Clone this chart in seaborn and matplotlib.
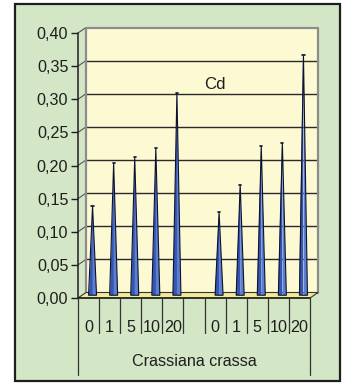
import numpy as np
import pandas as pd
import matplotlib
matplotlib.use("Agg")
import matplotlib.pyplot as plt
import seaborn as sns
from matplotlib.patches import Polygon, Rectangle

# ---- data ----
doses = ["0", "1", "5", "10", "20"]
group1 = [0.135, 0.200, 0.208, 0.222, 0.305]
group2 = [0.125, 0.167, 0.225, 0.230, 0.362]
yticks = [0.00, 0.05, 0.10, 0.15, 0.20, 0.25, 0.30, 0.35, 0.40]
species = "Crassiana crassa"
element = "Cd"

keys1 = [f"a{d}" for d in doses]
keys2 = [f"b{d}" for d in doses]
order = keys1 + ["gap"] + keys2
tick_text = doses + [""] + doses
df = pd.DataFrame({"key": keys1 + keys2, "value": group1 + group2})

sns.set_style("white")
plt.rcParams["font.family"] = ["Liberation Sans", "DejaVu Sans"]
FS = 11.6

W, H = 344, 383
fig = plt.figure(figsize=(W / 100, H / 100), dpi=100)
fig.patch.set_facecolor("white")

GREEN = "#d3e6c6"
WALL = "#fcf9d3"
FLOOR = "#f3ea95"
DARK = "#1e1e1e"

bg = fig.add_axes([0, 0, 1, 1], zorder=-10)
bg.set_xlim(0, W)
bg.set_ylim(H, 0)
bg.axis("off")
bg.add_patch(Rectangle((15, 4), 325, 377, facecolor=GREEN, edgecolor=DARK, linewidth=1.6))

ax = fig.add_axes([78 / W, 85 / H, 232 / W, 265 / H], zorder=1)
ax.patch.set_alpha(0)

sns.barplot(data=df, x="key", y="value", order=order, width=0.38, color="#3f60b8",
            errorbar=None, ax=ax)

ax.set_xlim(-0.5, len(order) - 0.5)
ax.set_ylim(0, 0.40)

px_x = 232 / len(order)
px_y = 265 / 0.40
dx = 8 / px_x
dy = 5.5 / px_y

bars = [p for p in list(ax.patches) if type(p) is Rectangle]
geo = [(p.get_x(), p.get_width(), p.get_height()) for p in bars]
for p in bars:
    p.remove()

# back wall
ax.add_patch(Rectangle((-0.5 + dx, dy), len(order), 0.40, facecolor=WALL, edgecolor="none",
                       zorder=0.5, clip_on=False))
for t in yticks[1:-1]:
    ax.plot([-0.5 + dx, len(order) - 0.5 + dx], [t + dy, t + dy], color="#2a2a2a", lw=1.0,
            zorder=0.8, clip_on=False)
    ax.plot([-0.5, -0.5 + dx], [t, t + dy], color="#555555", lw=0.8, zorder=0.8, clip_on=False)
ax.plot([-0.5, -0.5 + dx], [0.40, 0.40 + dy], color="#555555", lw=0.8, zorder=0.8, clip_on=False)
ax.plot([-0.5 + dx, -0.5 + dx, len(order) - 0.5 + dx, len(order) - 0.5 + dx],
        [dy, 0.40 + dy, 0.40 + dy, dy], color="#8c8c8c", lw=1.6, zorder=0.9, clip_on=False)

# floor
ax.add_patch(Polygon([(-0.5, 0), (len(order) - 0.5, 0), (len(order) - 0.5 + dx, dy), (-0.5 + dx, dy)],
                     closed=True, facecolor=FLOOR, edgecolor="#333333", lw=0.8, zorder=1,
                     clip_on=False))

for x, w, h in geo:
    if not np.isfinite(h) or h <= 0:
        continue
    c = x + w / 2 + dx / 2
    b = dy / 2
    half = w / 2
    top = h + dy / 2
    ax.add_patch(Polygon([(c - half, b), (c, b), (c, top)], closed=True, facecolor="#3556b2",
                         edgecolor="none", zorder=3, clip_on=False))
    ax.add_patch(Polygon([(c, b), (c + half, b), (c, top)], closed=True, facecolor="#5d7fd0",
                         edgecolor="none", zorder=3, clip_on=False))
    ax.add_patch(Polygon([(c - half, b), (c + half, b), (c, top)], closed=True, fill=False,
                         edgecolor="#0d1230", lw=0.8, zorder=4, clip_on=False))
    ax.plot([c - 0.05, c + 0.05], [top, top], color="#0d1230", lw=1.2, zorder=4, clip_on=False)

for s in ax.spines.values():
    s.set_visible(False)
ax.plot([-0.5, -0.5], [0, 0.40], color=DARK, lw=1.1, zorder=5, clip_on=False)
ax.plot([-0.5, len(order) - 0.5], [0, 0], color=DARK, lw=1.1, zorder=5, clip_on=False)

ax.set_yticks(yticks)
ax.set_yticklabels([f"{t:.2f}".replace(".", ",") for t in yticks])
ax.tick_params(axis="y", direction="out", length=5, width=1, color=DARK, labelsize=FS,
               labelcolor=DARK, pad=2, left=True)
ax.set_xticks([])
ax.set_xlabel("")
ax.set_ylabel("")

lab_y = -30 / px_y
sep_in = -35 / px_y
sep_out = -77 / px_y
for i, t in enumerate(tick_text):
    ax.text(i, lab_y, t, ha="center", va="center", fontsize=FS, color=DARK, clip_on=False)
for k in range(len(order) + 1):
    xb = k - 0.5
    bottom = sep_out if k in (0, len(order)) else sep_in
    ax.plot([xb, xb], [0, bottom], color="#333333", lw=0.9, clip_on=False, zorder=5)

ax.text((len(order) - 1) / 2, -64 / px_y, species, ha="center", va="center", fontsize=FS,
        color=DARK, clip_on=False)
ax.text(5.0 + dx * 2.6, 0.323, element, ha="center", va="center", fontsize=FS + 0.5, color=DARK)

fig.savefig("out.png", dpi=100)
